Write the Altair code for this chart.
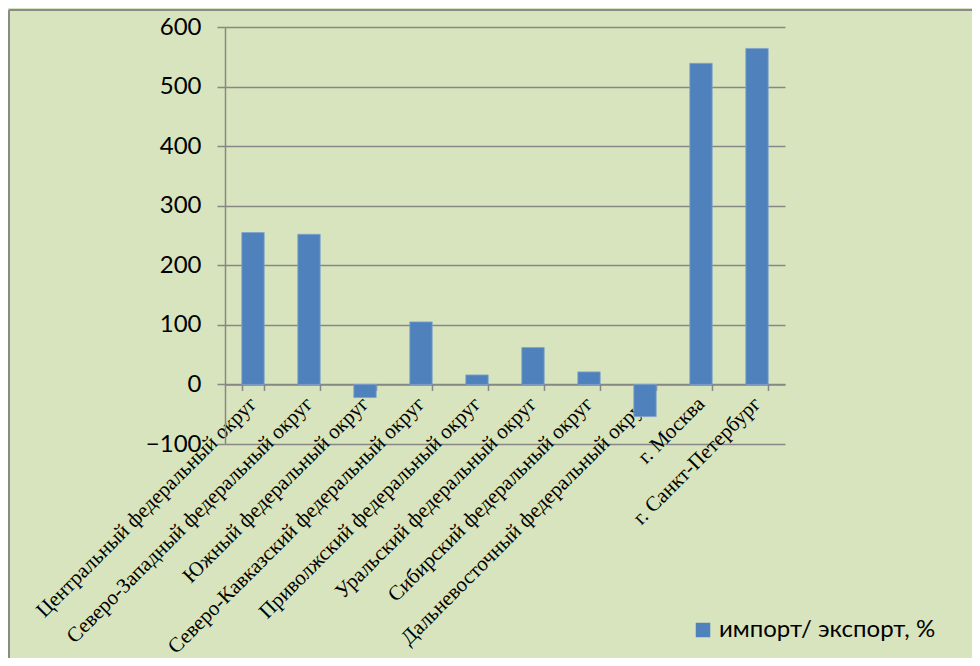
import altair as alt
import pandas as pd

categories = [
    "Центральный федеральный округ",
    "Северо-Западный федеральный округ",
    "Южный федеральный округ",
    "Северо-Кавказский федеральный округ",
    "Приволжский федеральный округ",
    "Уральский федеральный округ",
    "Сибирский федеральный округ",
    "Дальневосточный федеральный округ",
    "г. Москва",
    "г. Санкт-Петербург",
]
values = [255, 252, -22, 105, 16, 62, 21, -54, 539, 564]
series_name = "импорт/ экспорт, %"
y_ticks = [-100, 0, 100, 200, 300, 400, 500, 600]

df = pd.DataFrame({"cat": categories, "val": values, "series": [series_name] * len(categories)})

W, H = 560, 417
zero_offset = -(H * 100 / 700)

bg = "#d8e4bd"
grid_col = "#878787"

x_enc = alt.X(
    "cat:N",
    sort=categories,
    scale=alt.Scale(paddingInner=0.6, paddingOuter=0.3),
    axis=alt.Axis(
        title=None,
        offset=zero_offset,
        labelAngle=-45,
        labelAlign="right",
        labelBaseline="middle",
        labelFont="Liberation Serif",
        labelFontSize=21,
        labelColor="#000000",
        labelPadding=10,
        labelLimit=0,
        labelOverlap=False,
        tickBand="extent",
        tickSize=6,
        tickColor=grid_col,
        tickWidth=1.5,
        domainColor=grid_col,
        domainWidth=1.5,
        grid=False,
    ),
)

bars = alt.Chart(df).mark_bar(stroke="#7fa3cf", strokeWidth=0.8).encode(
    x=x_enc,
    y=alt.Y(
        "val:Q",
        scale=alt.Scale(domain=[-100, 600], nice=False, zero=False),
        axis=alt.Axis(
            title=None,
            values=y_ticks,
            labelFont="Lato",
            labelFontSize=24,
            labelColor="#000000",
            labelPadding=16,
            tickSize=8,
            tickColor=grid_col,
            tickWidth=1.5,
            domainColor=grid_col,
            domainWidth=1.5,
            gridColor=grid_col,
            gridWidth=1.5,
        ),
    ),
    color=alt.Color(
        "series:N",
        scale=alt.Scale(range=["#4f81bd"]),
        legend=alt.Legend(
            title=None,
            orient="none",
            legendX=466,
            legendY=591,
            symbolType="square",
            symbolSize=210,
            symbolStrokeWidth=0,
            labelFont="Lato",
            labelFontSize=24,
            labelColor="#000000",
            labelLimit=0,
        ),
    ),
)

border_left = alt.Chart(df.head(1)).mark_rule(color="#8a8a8a", strokeWidth=2).encode(
    x=alt.value(-216), y=alt.value(-17), y2=alt.value(700)
)
border_top = alt.Chart(df.head(1)).mark_rule(color="#8a8a8a", strokeWidth=2).encode(
    x=alt.value(-216), x2=alt.value(800), y=alt.value(-17)
)

chart = (
    alt.layer(bars, border_left, border_top)
    .properties(
        width=W,
        height=H,
        background=bg,
        padding={"left": 217, "top": 19, "right": 187, "bottom": 214},
        autosize=alt.AutoSizeParams(type="none"),
    )
    .configure_view(stroke=None)
)

chart.save("out.html", embed_options={"renderer": "svg", "actions": False})
